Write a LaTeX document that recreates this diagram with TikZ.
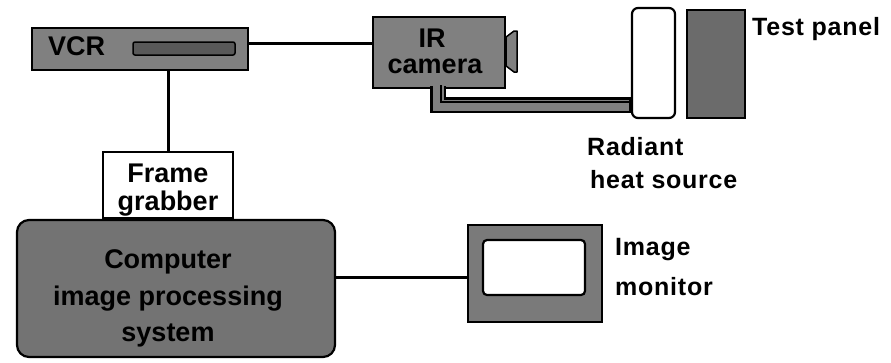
\documentclass[tikz,border=0pt]{standalone}
\usepackage{fontspec}
\setmainfont{Liberation Sans}
\newfontfamily\labelfont[LetterSpace=3]{Liberation Sans}
\definecolor{boxgray}{gray}{0.5}
\definecolor{darkgray2}{gray}{0.42}
\begin{document}
\begin{tikzpicture}[x=1pt,y=-1pt,
  box/.style={draw=black,line width=2.2pt,fill=boxgray,inner sep=0pt},
  wbox/.style={draw=black,line width=2.2pt,fill=white,inner sep=0pt},
  conn/.style={draw=black,line width=3pt},
  boxtext/.style={inner sep=0pt,font=\bfseries\fontsize{27}{26}\selectfont,align=center},
  lbl/.style={inner sep=0pt,font=\labelfont\bfseries\fontsize{25}{24}\selectfont}]
\useasboundingbox (0,0) rectangle (891,362);
\fill[white] (0,0) rectangle (891,362);

% VCR
\node[box,minimum width=216pt,minimum height=42pt] (vcr) at (140,49) {};
\node[draw=black,line width=1.5pt,fill=black!65,rounded corners=2pt,minimum width=102pt,minimum height=13pt,inner sep=0pt] (slot) at (184,48.5) {};
\node[boxtext,anchor=base west] (vcrt) at (48,55) {VCR};

% IR camera
\node[box,minimum width=132pt,minimum height=71pt] (ir) at (439,52.5) {};
\draw[black,line width=1.5pt,fill=boxgray,line join=round] (ir.east |- 0,37) -- (514,31) -- (517,31) -- (517,72) -- (514,72) -- (ir.east |- 0,66) -- cycle;
\node[boxtext,anchor=base] (irt) at (432,47) {IR};
\node[boxtext,anchor=base] (camt) at (435,73) {camera};

% Radiant heat source and test panel
\node[wbox,rounded corners=6pt,minimum width=43pt,minimum height=110pt] (heat) at (653.5,63) {};
\node[box,fill=darkgray2,minimum width=58pt,minimum height=108pt] (panel) at (716,64) {};
\node[lbl,anchor=base west] (panelt) at (752,35) {Test panel};
\node[lbl,anchor=base west] (heatt1) at (587,155) {Radiant};
\node[lbl,anchor=base west] (heatt2) at (590,188) {heat source};

% cable camera -> heat source
\coordinate (cab1) at (438,86);
\coordinate (cab2) at (438,105);
\coordinate (cab3) at (heat.west |- cab2);
\draw[black,line width=16pt] (cab1) -- (cab2) -- (cab3);
\draw[boxgray,line width=11pt] ([yshift=1pt]cab1) -- (cab2) -- ([xshift=-2pt]cab3);
\draw[black,line width=1.2pt] ([xshift=3pt,yshift=1pt]cab1) -- ([xshift=3pt,yshift=3pt]cab2) -- ([xshift=-2pt,yshift=3pt]cab3);

% VCR -> IR camera
\coordinate (c1) at ([yshift=6pt]vcr.east);
\draw[conn] (c1) -- (c1 -| ir.west);

% Frame grabber
\node[wbox,minimum width=130pt,minimum height=66pt] (fg) at (168,185) {};
\node[boxtext,anchor=base] (fgt1) at (168,182) {Frame};
\node[boxtext,anchor=base] (fgt2) at (168,210) {grabber};
\draw[conn] (fg.north) -- (fg.north |- vcr.south);

% Computer
\node[box,fill=black!55,rounded corners=12pt,minimum width=318pt,minimum height=137pt] (comp) at (176,288.5) {};
\node[boxtext,anchor=base] (ct1) at (168,268) {Computer};
\node[boxtext,anchor=base] (ct2) at (168,305) {image processing};
\node[boxtext,anchor=base] (ct3) at (168,341) {system};

% Monitor
\node[box,fill=black!52,minimum width=134pt,minimum height=97pt] (mon) at (535,273.5) {};
\node[wbox,rounded corners=4pt,minimum width=102pt,minimum height=55pt] (scr) at (534,267.5) {};
\node[lbl,anchor=base west] (mont1) at (615,255) {Image};
\node[lbl,anchor=base west] (mont2) at (615,295) {monitor};
\coordinate (m1) at ([yshift=-3.5pt]mon.west);
\draw[conn] (m1) -- (m1 -| comp.east);
\end{tikzpicture}
\end{document}
